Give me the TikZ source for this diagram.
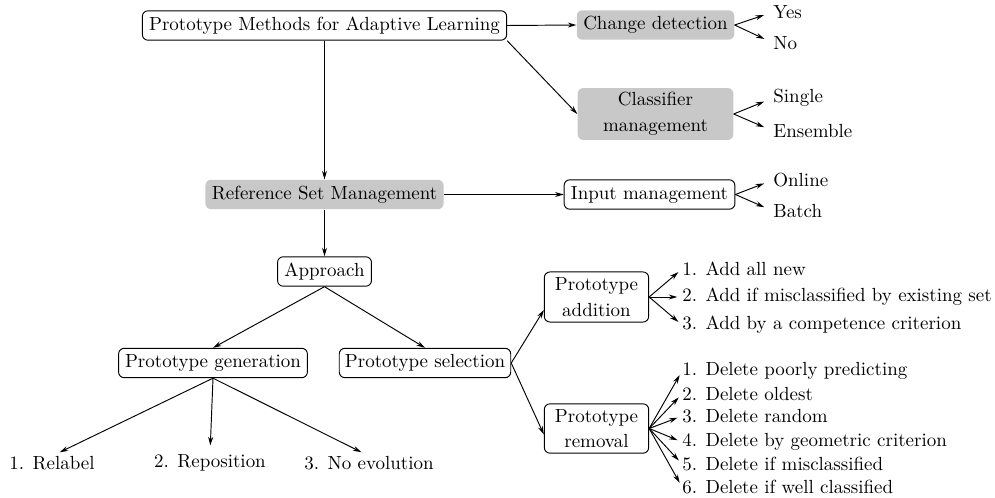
\documentclass[tikz,border=0pt]{standalone}
\usetikzlibrary{arrows.meta,calc}
\definecolor{boxgray}{RGB}{200,200,200}
\tikzset{
  box/.style={draw, rounded corners=3pt, inner xsep=3pt, inner ysep=2pt, minimum height=15.5pt, align=center, font=\fontsize{10}{13.5}\selectfont, line width=0.5pt},
  gbox/.style={fill=boxgray, rounded corners=3pt, inner xsep=3pt, inner ysep=2pt, minimum height=15.5pt, align=center, font=\fontsize{10}{13.5}\selectfont},
  lbl/.style={inner sep=0pt, anchor=west},
  blbl/.style={inner sep=0pt, anchor=north},
  arr/.style={-{Stealth[length=4.5pt,width=2.6pt]}, line width=0.5pt},
}
\begin{document}
\begin{tikzpicture}[x=0.527pt, y=-0.527pt]
\useasboundingbox (0,0) rectangle (995,498);
% main boxes
\node[box, minimum width=192pt] (top) at (324.5,25.5) {Prototype Methods for Adaptive Learning};
\node[gbox, minimum width=83pt] (cd) at (655.5,25) {Change detection};
\node[gbox, minimum width=82pt, minimum height=27.4pt] (cls) at (655.5,114) {Classifier\\management};
\node[gbox, minimum width=125.5pt] (ref) at (324.5,194.5) {Reference Set Management};
\node[box, minimum width=90pt] (inp) at (649.5,194.5) {Input management};
\node[box, minimum width=49.5pt] (app) at (324.5,271.5) {Approach};
\node[box, minimum width=99.5pt] (gen) at (213,363) {Prototype generation};
\node[box, minimum width=88.5pt] (sel) at (425,363) {Prototype selection};
\node[box, minimum width=55pt, minimum height=26.4pt] (add) at (596.5,297) {Prototype\\addition};
\node[box, minimum width=55pt, minimum height=26pt] (rem) at (596.5,428.5) {Prototype\\removal};
% leaf labels
\node[lbl] (yes) at (773,12) {Yes};
\node[lbl] (no) at (773,43) {No};
\node[lbl] (single) at (773,98) {Single};
\node[lbl] (ens) at (773,131) {Ensemble};
\node[lbl] (onl) at (773,180) {Online};
\node[lbl] (bat) at (773,211) {Batch};
\node[lbl] (a1) at (682,269) {1. Add all new};
\node[lbl] (a2) at (682,297) {2. Add if misclassified by existing set};
\node[lbl] (a3) at (682,325) {3. Add by a competence criterion};
\node[lbl] (d1) at (682,371) {1. Delete poorly predicting};
\node[lbl] (d2) at (682,394) {2. Delete oldest};
\node[lbl] (d3) at (682,416) {3. Delete random};
\node[lbl] (d4) at (682,442) {4. Delete by geometric criterion};
\node[lbl] (d5) at (682,464) {5. Delete if misclassified};
\node[lbl] (d6) at (682,487) {6. Delete if well classified};
\node[blbl] (r1) at (52,456) {1. Relabel};
\node[blbl] (r2) at (210,454) {2. Reposition};
\node[blbl] (r3) at (369,456) {3. No evolution};
% connectors
\draw[arr] (top.east) -- (cd.west);
\draw[arr] (top.south east) -- (cls.west);
\draw[arr] (top.south) -- (ref.north);
\draw[arr] (ref.east) -- (inp.west);
\draw[arr] (ref.south) -- (app.north);
\draw[arr] (app.south) -- (gen.north);
\draw[arr] (app.south) -- (sel.north);
\draw[arr] (sel.east) -- ($(add.west)+(0,13)$);
\draw[arr] (sel.east) -- ($(rem.west)+(0,6)$);
\begin{scope}[arr, shorten >=5pt]
\draw (cd.east) -- (yes.west);
\draw (cd.east) -- (no.west);
\draw (cls.east) -- (single.west);
\draw (cls.east) -- (ens.west);
\draw (inp.east) -- (onl.west);
\draw (inp.east) -- (bat.west);
\end{scope}
\begin{scope}[arr, shorten >=2.5pt]
\draw (add.east) -- (a1.west);
\draw (add.east) -- (a2.west);
\draw (add.east) -- (a3.west);
\draw (rem.east) -- (d1.west);
\draw (rem.east) -- (d2.west);
\draw (rem.east) -- (d3.west);
\draw (rem.east) -- (d4.west);
\draw (rem.east) -- (d5.west);
\draw (rem.east) -- (d6.west);
\end{scope}
\begin{scope}[arr, shorten >=4.5pt]
\draw (gen.south) -- (r1.north);
\draw (gen.south) -- (r2.north);
\draw (gen.south) -- (r3.north);
\end{scope}
\end{tikzpicture}
\end{document}
